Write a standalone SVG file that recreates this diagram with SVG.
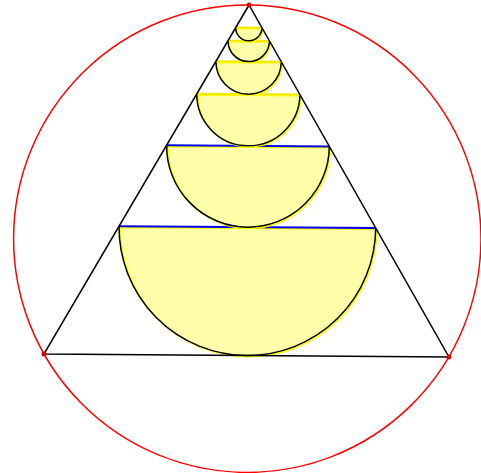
<svg xmlns="http://www.w3.org/2000/svg" width="481" height="473" viewBox="0 0 481 473">
<style>
.shadow{fill:#ffffaa;stroke:#ffff00;stroke-width:1.6}
.arc{fill:none;stroke:#000;stroke-width:1.5}
.dy{stroke:#f0e800;stroke-width:2}
.db{stroke:#0000ee;stroke-width:2}
.tri{fill:none;stroke:#000;stroke-width:1.5;stroke-linejoin:miter}
.circ{fill:none;stroke:#ff0000;stroke-width:1.5}
.pt{fill:#dd0000}
</style>
<rect width="481" height="473" fill="#fff"/>
<g transform="translate(249,5) rotate(0.42)">
  <g id="circumcircle"><circle class="circ" cx="0" cy="233.7" r="233.7"/></g>
  <g id="semi1">
    <path class="shadow" transform="translate(1.3,1.2)" d="M-128.35,222.15 A128.35,128.35 0 0 0 128.35,222.15 Z"/>
    <path class="arc" d="M-128.35,222.15 A128.35,128.35 0 0 0 128.35,222.15"/>
    <line class="db" x1="-128.35" y1="222.15" x2="128.35" y2="222.15"/>
  </g>
  <g id="semi2">
    <path class="shadow" transform="translate(1.3,1.2)" d="M-81.35,140.8 A81.35,81.35 0 0 0 81.35,140.8 Z"/>
    <path class="arc" d="M-81.35,140.8 A81.35,81.35 0 0 0 81.35,140.8"/>
    <line class="db" x1="-81.35" y1="140.8" x2="81.35" y2="140.8"/>
  </g>
  <g id="semi3">
    <path class="shadow" transform="translate(1.2,1)" d="M-51.56,89.24 A51.56,51.56 0 0 0 51.56,89.24 Z"/>
    <path class="arc" d="M-51.56,89.24 A51.56,51.56 0 0 0 51.56,89.24"/>
    <line class="dy" x1="-51.56" y1="89.24" x2="51.56" y2="89.24"/>
  </g>
  <g id="semi4">
    <path class="shadow" transform="translate(1.2,1)" d="M-32.68,56.56 A32.68,32.68 0 0 0 32.68,56.56 Z"/>
    <path class="arc" d="M-32.68,56.56 A32.68,32.68 0 0 0 32.68,56.56"/>
    <line class="dy" x1="-32.68" y1="56.56" x2="32.68" y2="56.56"/>
  </g>
  <g id="semi5">
    <path class="shadow" transform="translate(1.2,1)" d="M-20.71,35.85 A20.71,20.71 0 0 0 20.71,35.85 Z"/>
    <path class="arc" d="M-20.71,35.85 A20.71,20.71 0 0 0 20.71,35.85"/>
    <line class="dy" x1="-20.71" y1="35.85" x2="20.71" y2="35.85"/>
  </g>
  <g id="semi6">
    <path class="shadow" transform="translate(1,1)" d="M-13.13,22.72 A13.13,13.13 0 0 0 13.13,22.72 Z"/>
    <path class="arc" d="M-13.13,22.72 A13.13,13.13 0 0 0 13.13,22.72"/>
    <line class="dy" x1="-13.13" y1="22.72" x2="13.13" y2="22.72"/>
  </g>
  <g id="triangle"><path class="tri" d="M0,0 L-202.5,350.5 L202.5,350.5 Z"/></g>
  <g id="points">
    <circle class="pt" cx="0" cy="0" r="2.5"/>
    <circle class="pt" cx="-202.5" cy="350.5" r="2.5"/>
    <circle class="pt" cx="202.5" cy="350.5" r="2.5"/>
  </g>
</g>
</svg>
